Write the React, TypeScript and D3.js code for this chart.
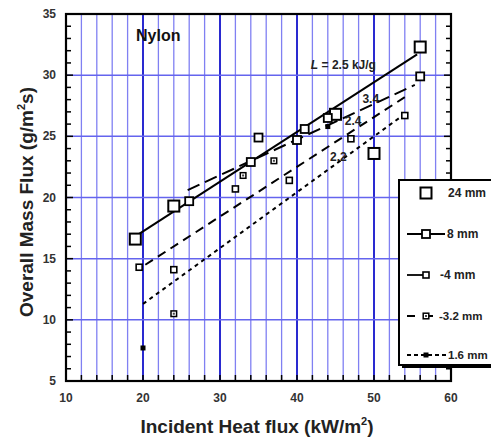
import * as d3 from 'd3';

// 24 mm samples
const x24 = [19, 24, 45, 50, 56];
const y24 = [16.6, 19.3, 26.8, 23.6, 32.3];
// 8 mm
const x8 = [26, 34, 35, 40, 41, 44, 56];
const y8 = [19.7, 22.9, 24.9, 24.7, 25.6, 26.5, 29.9];
// 4 mm
const x4 = [19.5, 24, 32, 39, 47, 54];
const y4 = [14.3, 14.1, 20.7, 21.4, 24.8, 26.7];
// 3.2 mm
const x32 = [24, 33, 37];
const y32 = [10.5, 21.8, 23.0];
// 1.6 mm
const x16 = [20, 44];
const y16 = [7.7, 25.8];

// fitted lines (end points)
const fitLabels = ['L = 2.5 kJ/g', '3.4', '2.4', '2.2'];
const fitX = [[19.2, 55.6], [25.8, 55.3], [20.3, 54], [20, 53.5]];
const fitY = [[16.9, 31.7], [20.6, 29.2], [14.5, 28.2], [11.3, 26.6]];
const fitDash = [null, '13,6', '9,6', '4,4'];
const fitLabelPos = [[41.8, 30.5], [48.5, 27.7], [46.2, 25.9], [44.3, 23.0]];

const xTicks = [10, 20, 30, 40, 50, 60];
const yTicks = [5, 10, 15, 20, 25, 30, 35];
const legendNames = ['24 mm', '8 mm', '-4 mm', '-3.2 mm', '1.6 mm'];

const font = 'Liberation Sans, Arial, Helvetica, sans-serif';

const Marker = ({ cx, cy, kind }) => {
  if (kind === 0) return <rect x={cx - 5.5} y={cy - 5.5} width={11} height={11} fill="white" stroke="black" strokeWidth={2} />;
  if (kind === 1) return <rect x={cx - 4} y={cy - 4} width={8} height={8} fill="white" stroke="black" strokeWidth={1.8} />;
  if (kind === 2) return <rect x={cx - 3} y={cy - 3} width={6} height={6} fill="white" stroke="black" strokeWidth={1.6} />;
  if (kind === 3) return (
    <g>
      <rect x={cx - 2.8} y={cy - 2.8} width={5.6} height={5.6} fill="white" stroke="black" strokeWidth={1.5} />
      <rect x={cx - 1} y={cy - 1} width={2} height={2} fill="#444" />
    </g>
  );
  return <rect x={cx - 2.5} y={cy - 2.5} width={5} height={5} fill="black" />;
};

export default function App() {
  const x = d3.scaleLinear().domain([10, 60]).range([66, 451]);
  const y = d3.scaleLinear().domain([5, 35]).range([381, 14]);
  const minorX = d3.range(12, 60, 2);
  const minorY = d3.range(5, 36, 1);
  const series = [[x24, y24], [x8, y8], [x4, y4], [x32, y32], [x16, y16]];
  const line = d3.line();
  const legY = [193, 234, 275, 316, 355];

  return (
    <svg width={491} height={438} style={{ position: 'absolute', left: 0, top: 0, background: 'white' }} fontFamily={font}>
      {/* grid */}
      {minorX.map(v => (
        <line key={'gx' + v} x1={x(v)} x2={x(v)} y1={y(35)} y2={y(5)}
          stroke={v % 10 === 0 ? '#2a2ad0' : '#8080f2'} strokeWidth={v % 10 === 0 ? 2 : 1.3} />
      ))}
      {[10, 15, 20, 25, 30].map(v => (
        <line key={'gy' + v} x1={x(10)} x2={x(60)} y1={y(v)} y2={y(v)} stroke="#6464ee" strokeWidth={1.5} />
      ))}
      {/* ticks */}
      {minorX.map(v => (
        <line key={'tx' + v} x1={x(v)} x2={x(v)} y1={y(5)} y2={y(5) - 6} stroke="black" strokeWidth={1.5} />
      ))}
      {minorY.map(v => (
        <g key={'ty' + v}>
          <line x1={x(10)} x2={x(10) + (v % 5 === 0 ? 7 : 5)} y1={y(v)} y2={y(v)} stroke="black" strokeWidth={1.5} />
          <line x1={x(60)} x2={x(60) - (v % 5 === 0 ? 7 : 5)} y1={y(v)} y2={y(v)} stroke="black" strokeWidth={1.5} />
        </g>
      ))}
      <rect x={x(10)} y={y(35)} width={x(60) - x(10)} height={y(5) - y(35)} fill="none" stroke="black" strokeWidth={2.2} />

      {/* tick labels */}
      {xTicks.map(v => (
        <text key={'lx' + v} x={x(v)} y={402} textAnchor="middle" fontSize={12} fontWeight="bold" fill="#333">{v}</text>
      ))}
      {yTicks.map(v => (
        <text key={'ly' + v} x={56} y={y(v) + 4} textAnchor="end" fontSize={12} fontWeight="bold" fill="#333">{v}</text>
      ))}

      {/* axis titles */}
      <text x={257} y={433} textAnchor="middle" fontSize={19} fontWeight="bold" fill="#222">
        Incident Heat flux (kW/m<tspan dy={-8} fontSize={11}>2</tspan><tspan dy={8}>)</tspan>
      </text>
      <text transform={`translate(33,${202}) rotate(-90)`} textAnchor="middle" fontSize={19} fontWeight="bold" fill="#222">
        Overall Mass Flux (g/m<tspan dy={-8} fontSize={11}>2</tspan><tspan dy={8}>s)</tspan>
      </text>

      <text x={136} y={41} fontSize={16} fontWeight="bold" fill="#111">Nylon</text>

      {/* fitted lines */}
      {fitX.map((xs, i) => (
        <path key={'fit' + i} d={line(xs.map((v, j) => [x(v), y(fitY[i][j])]))}
          fill="none" stroke="black" strokeWidth={2} strokeDasharray={fitDash[i] || undefined} />
      ))}
      {fitLabels.map((t, i) => (
        <text key={'fl' + i} x={x(fitLabelPos[i][0])} y={y(fitLabelPos[i][1])} fontSize={12} fontWeight="bold" fill="#222">
          {i === 0 ? <><tspan fontStyle="italic">L</tspan>{' = 2.5 kJ/g'}</> : t}
        </text>
      ))}

      {/* markers */}
      {series.map(([xs, ys], k) => xs.map((v, i) => (
        <Marker key={'m' + k + '-' + i} cx={x(v)} cy={y(ys[i])} kind={k} />
      )))}

      {/* legend */}
      <rect x={402} y={183} width={100} height={185} fill="black" />
      <rect x={399} y={180} width={100} height={185} fill="white" stroke="black" strokeWidth={2} />
      {legendNames.map((name, i) => {
        const ly = legY[i];
        return (
          <g key={'lg' + i}>
            {i === 1 && <line x1={407} x2={445} y1={ly} y2={ly} stroke="black" strokeWidth={1.8} />}
            {i === 2 && <line x1={407} x2={426} y1={ly} y2={ly} stroke="black" strokeWidth={1.8} />}
            {i === 3 && <line x1={407} x2={438} y1={ly} y2={ly} stroke="black" strokeWidth={1.8} strokeDasharray="8,10" />}
            {i === 4 && <line x1={407} x2={446} y1={ly} y2={ly} stroke="black" strokeWidth={1.8} strokeDasharray="4,3" />}
            <Marker cx={426} cy={ly} kind={i} />
            <text x={[448, 447, 440, 439, 448][i]} y={ly + 4} fontSize={[12, 12, 12, 11.5, 11.5][i]} fontWeight="bold" fill="#222">{name}</text>
          </g>
        );
      })}
    </svg>
  );
}
